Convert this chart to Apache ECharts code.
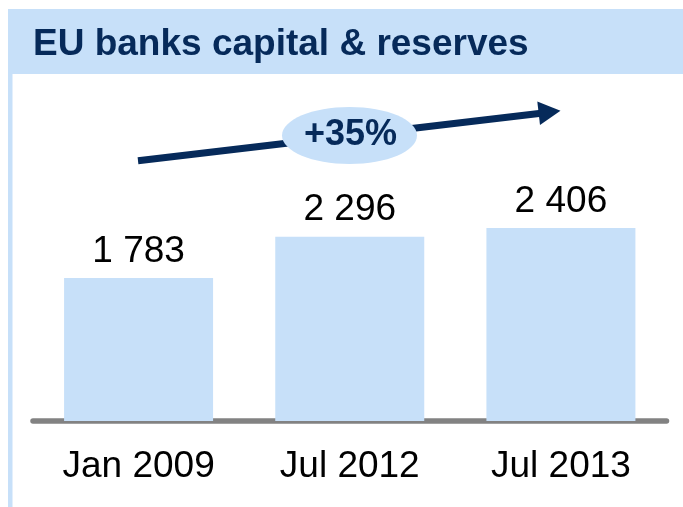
<!DOCTYPE html>
<html>
<head>
<meta charset="utf-8">
<script src="https://cdn.jsdelivr.net/npm/echarts@6/dist/echarts.min.js"></script>
<style>
  html, body { margin: 0; padding: 0; background: #ffffff; }
  #chart { width: 683px; height: 507px; }
</style>
</head>
<body>
<div id="chart"></div>
<script>
var titleText = 'EU banks capital & reserves';
var categories = ['Jan 2009', 'Jul 2012', 'Jul 2013'];
var values = [1783, 2296, 2406];

var NAVY = '#062a5a';
var LIGHT = '#c7e0f9';
var FONT = 'Liberation Sans, Arial, Helvetica, sans-serif';

function fmt(v) {
  return String(v).replace(/\B(?=(\d{3})+(?!\d))/g, ' ');
}
var growth = '+' + Math.round((values[values.length - 1] / values[0] - 1) * 100) + '%';

var chart = echarts.init(document.getElementById('chart'), null, { renderer: 'canvas' });
chart.setOption({
  animation: false,
  backgroundColor: '#ffffff',
  title: {
    text: titleText,
    left: 28,
    top: 21,
    textStyle: { fontFamily: FONT, fontSize: 37, fontWeight: 'bold', color: NAVY }
  },
  grid: { left: 33, right: 16.5, top: 100, bottom: 86, containLabel: false },
  xAxis: {
    type: 'category',
    data: categories,
    axisTick: { show: false },
    axisLine: { show: true, lineStyle: { color: '#828282', width: 5.5, cap: 'round' } },
    axisLabel: { fontFamily: FONT, fontSize: 37, color: '#000000', margin: 27 }
  },
  yAxis: {
    type: 'value',
    min: 0,
    max: 4000,
    show: false,
    splitLine: { show: false }
  },
  series: [{
    type: 'bar',
    data: values,
    barWidth: 149,
    itemStyle: { color: LIGHT },
    label: {
      show: true,
      position: 'top',
      distance: 8,
      formatter: function (p) { return fmt(p.value); },
      fontFamily: FONT,
      fontSize: 37,
      color: '#000000'
    },
    z: 1
  }],
  graphic: [
    { type: 'rect', z: -10, shape: { x: 8, y: 9, width: 675, height: 65 }, style: { fill: LIGHT } },
    { type: 'rect', z: -10, shape: { x: 8, y: 74, width: 4.5, height: 433 }, style: { fill: LIGHT } },
    { type: 'line', z: 10, shape: { x1: 138, y1: 160.7, x2: 541, y2: 113.2 }, style: { stroke: NAVY, lineWidth: 7 } },
    { type: 'polygon', z: 10, shape: { points: [[537.3, 101.5], [560.5, 110.8], [540, 125]] }, style: { fill: NAVY } },
    { type: 'ellipse', z: 11, shape: { cx: 349.5, cy: 135.5, rx: 67.5, ry: 28.5 }, style: { fill: LIGHT } },
    { type: 'text', z: 12, x: 350.5, y: 135.5, style: { text: growth, fontFamily: FONT, fontSize: 36, fontWeight: 'bold', fill: NAVY, align: 'center', verticalAlign: 'middle' } }
  ]
});
</script>
</body>
</html>
